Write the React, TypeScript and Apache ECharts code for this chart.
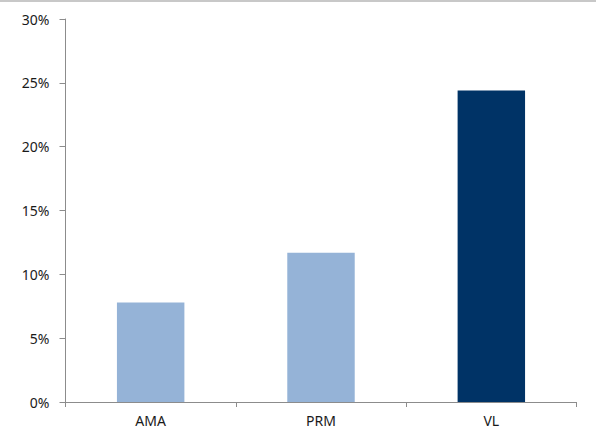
import React, { useEffect, useRef } from "react";
import * as echarts from "echarts";

const categories = ["AMA", "PRM", "VL"];
const values = [7.8, 11.7, 24.4];
const barColors = ["#95b3d7", "#95b3d7", "#003366"];
const yTicks = { min: 0, max: 30, interval: 5 };

export default function App() {
  const ref = useRef<HTMLDivElement>(null);

  useEffect(() => {
    if (!ref.current) return;
    const chart = echarts.init(ref.current, undefined, { renderer: "svg" });
    const font = "'Noto Sans', 'DejaVu Sans', sans-serif";
    chart.setOption({
      animation: false,
      backgroundColor: "#ffffff",
      grid: { left: 65.5, right: 19.5, top: 19, bottom: 28, containLabel: false },
      graphic: [
        {
          type: "rect",
          left: 0,
          top: 0,
          shape: { width: 596, height: 2 },
          style: { fill: "#c8c8c8" },
        },
      ],
      xAxis: {
        type: "category",
        data: categories,
        axisLine: { lineStyle: { color: "#8c8c8c", width: 1 } },
        axisTick: { show: true, alignWithLabel: false, length: 5, lineStyle: { color: "#8c8c8c" } },
        axisLabel: { color: "#1a1a1a", fontSize: 14, fontFamily: font, margin: 11 },
        splitLine: { show: false },
      },
      yAxis: {
        type: "value",
        min: yTicks.min,
        max: yTicks.max,
        interval: yTicks.interval,
        axisLine: { show: true, lineStyle: { color: "#8c8c8c", width: 1 } },
        axisTick: { show: true, length: 6, lineStyle: { color: "#8c8c8c" } },
        axisLabel: {
          color: "#1a1a1a",
          fontSize: 14,
          fontFamily: font,
          margin: 16,
          formatter: (v: number) => `${v}%`,
        },
        splitLine: { show: false },
      },
      series: [
        {
          type: "bar",
          barWidth: "39.6%",
          data: values.map((v, i) => ({ value: v, itemStyle: { color: barColors[i] } })),
        },
      ],
    });
    return () => chart.dispose();
  }, []);

  return (
    <div
      ref={ref}
      style={{ position: "fixed", left: 0, top: 0, width: 596, height: 430 }}
    />
  );
}
